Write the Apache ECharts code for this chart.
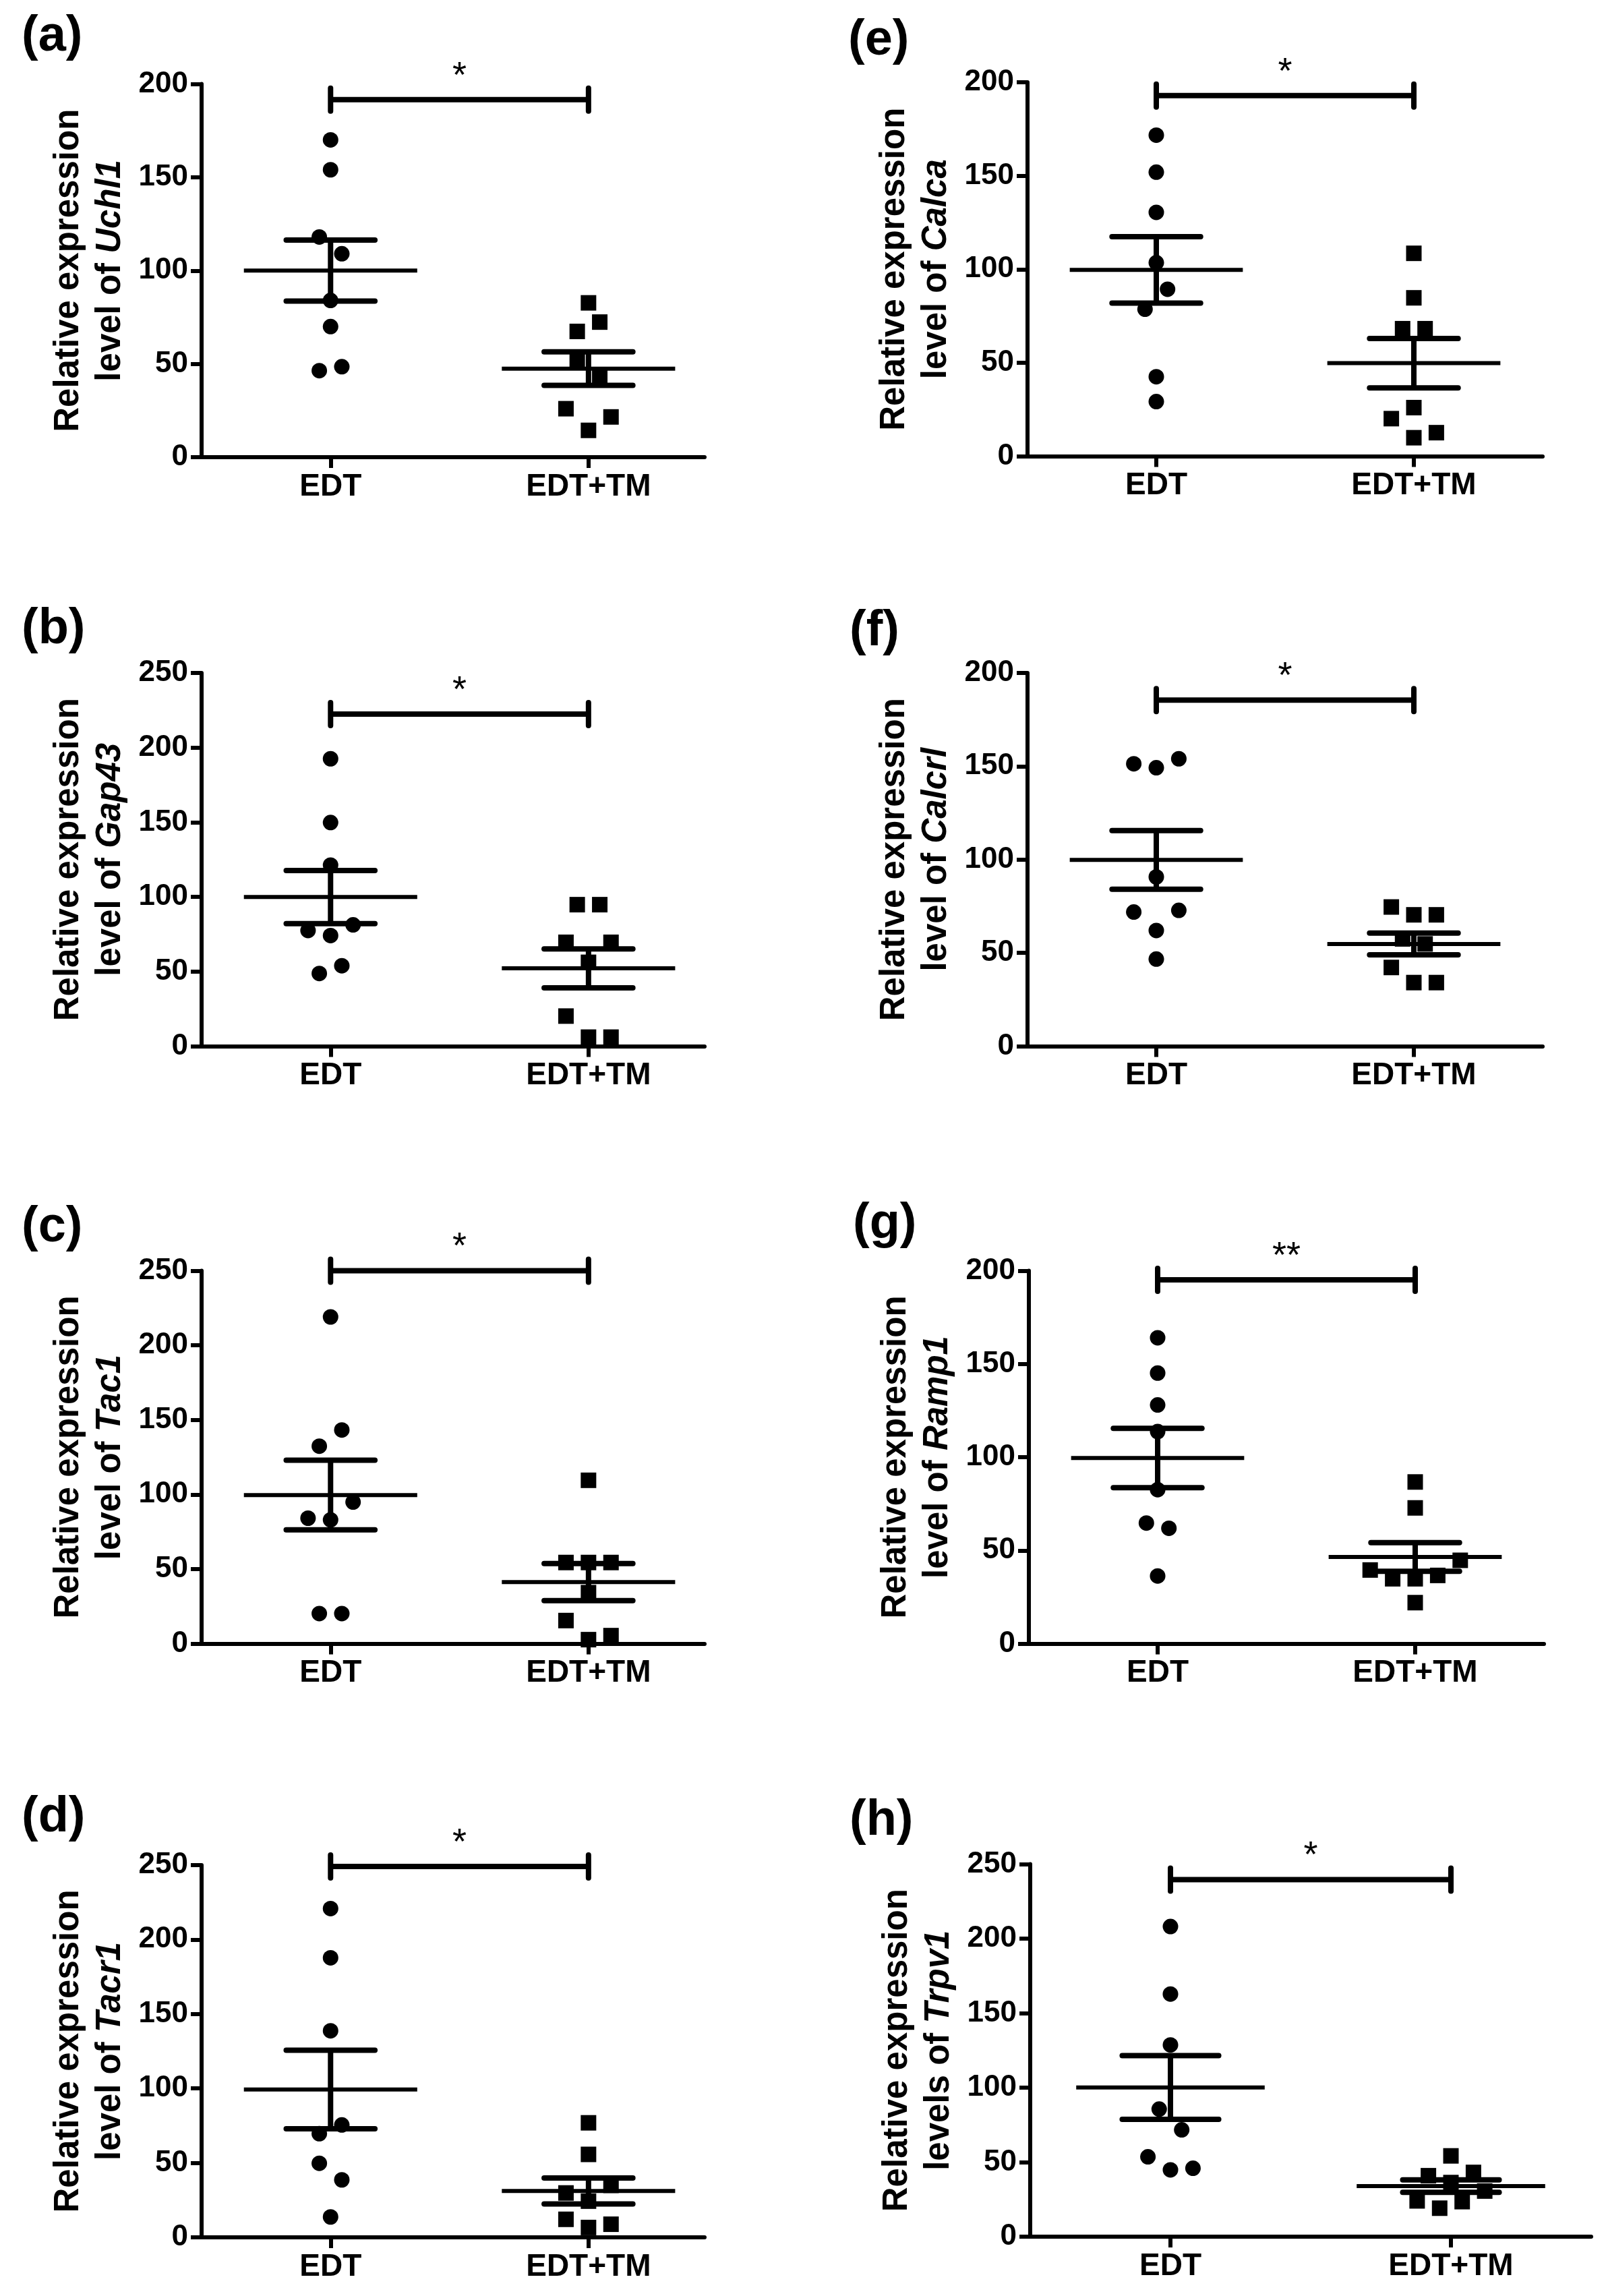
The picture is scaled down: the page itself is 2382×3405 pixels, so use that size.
<!DOCTYPE html>
<html>
<head>
<meta charset="utf-8">
<script src="https://cdn.jsdelivr.net/npm/echarts@6/dist/echarts.min.js"></script>
<style>
html,body{margin:0;padding:0;background:#fff;}
#c{width:2382px;height:3405px;}
</style>
</head>
<body>
<div id="c"></div>
<script>
// ---------------- DATA ----------------
const categories = ['EDT', 'EDT+TM'];
const panelLetters = ['(a)', '(b)', '(c)', '(d)', '(e)', '(f)', '(g)', '(h)'];
const genes = ['Uchl1', 'Gap43', 'Tac1', 'Tacr1', 'Calca', 'Calcrl', 'Ramp1', 'Trpv1'];
const titlePrefixes = ['level of ', 'level of ', 'level of ', 'level of ', 'level of ', 'level of ', 'level of ', 'levels of '];
const yMaxTicks = [200, 250, 250, 250, 200, 200, 200, 250];
const yTickStep = [50, 50, 50, 50, 50, 50, 50, 50];

const a_EDT = [170, 154, 118, 109, 84, 70, 46.4, 48.5];
const a_TM  = [82.7, 72.4, 67.4, 52.6, 42.8, 26, 21.6, 14.4];
const b_EDT = [192.5, 149.8, 121.3, 77.5, 81.3, 74.1, 53.9, 48.7];
const b_TM  = [94.8, 94.8, 69.6, 69.6, 56.2, 20.2, 6.1, 6.1];
const c_EDT = [219, 143.2, 132.4, 94.9, 84.1, 83, 20.2, 20.2];
const c_TM  = [109.5, 54.4, 54.4, 54.4, 34.2, 15.5, 5.4, 2.7];
const d_EDT = [220.8, 187.7, 138.7, 75.5, 69.6, 49.7, 38.6, 13.7];
const d_TM  = [76.9, 55.7, 34.9, 29.8, 24.3, 12.1, 8.8, 6.6];
const e_EDT = [171.7, 151.9, 130.4, 103.5, 89.3, 78.6, 42.5, 29.2];
const e_TM  = [108.5, 84.7, 68.2, 68.2, 26, 20.1, 12.6, 9.9];
const f_EDT = [151.3, 149.2, 154, 90.7, 71.9, 72.8, 62, 46.7];
const f_TM  = [74.6, 70.4, 70.4, 57.5, 54.8, 42.2, 34.1, 34.1];
const g_EDT = [164, 145.1, 128, 113.7, 82.6, 64.7, 61.9, 36.3];
const g_TM  = [86.7, 72.8, 44.7, 39.5, 34.8, 34.8, 36.6, 22];
const h_EDT = [208.1, 162.8, 128.6, 85.6, 71.7, 53.6, 44.8, 45.9];
const h_TM  = [54.2, 40.9, 43.1, 36.3, 30.6, 24, 23.5, 19.1];

// scatter spread (in marker-half-width steps)
const a_EDT_spread = [0, 0, -1, 1, 0, 0, -1, 1];
const a_TM_spread  = [0, 1, -1, -1, 1, -2, 2, 0];
const b_EDT_spread = [0, 0, 0, -2, 2, 0, 1, -1];
const b_TM_spread  = [-1, 1, -2, 2, 0, -2, 0, 2];
const c_EDT_spread = [0, 1, -1, 2, -2, 0, -1, 1];
const c_TM_spread  = [0, -2, 0, 2, 0, -2, 2, 0];
const d_EDT_spread = [0, 0, 0, 1, -1, -1, 1, 0];
const d_TM_spread  = [0, 0, 2, -2, 0, -2, 2, 0];
const e_EDT_spread = [0, 0, 0, 0, 1, -1, 0, 0];
const e_TM_spread  = [0, 0, -1, 1, 0, -2, 2, 0];
const f_EDT_spread = [-2, 0, 2, 0, -2, 2, 0, 0];
const f_TM_spread  = [-2, 0, 2, -1, 1, -2, 0, 2];
const g_EDT_spread = [0, 0, 0, 0, 0, -1, 1, 0];
const g_TM_spread  = [0, 0, 4, -4, -2, 0, 2, 0];
const h_EDT_spread = [0, 0, 0, -1, 1, -2, 0, 2];
const h_TM_spread  = [0, -2, 2, 0, 3, -3, 1, -1];

// significance brackets
const sigLevels = [191.6, 222.4, 250, 249.1, 192.8, 185.4, 195.1, 239.6];
const sigLabels = ['*', '*', '*', '*', '*', '*', '**', '*'];

// ---------------- LAYOUT / STYLE ----------------
const groupsEDT = [a_EDT, b_EDT, c_EDT, d_EDT, e_EDT, f_EDT, g_EDT, h_EDT];
const groupsTM = [a_TM, b_TM, c_TM, d_TM, e_TM, f_TM, g_TM, h_TM];
const spreadEDT = [a_EDT_spread, b_EDT_spread, c_EDT_spread, d_EDT_spread, e_EDT_spread, f_EDT_spread, g_EDT_spread, h_EDT_spread];
const spreadTM = [a_TM_spread, b_TM_spread, c_TM_spread, d_TM_spread, e_TM_spread, f_TM_spread, g_TM_spread, h_TM_spread];

const layout = [
  {left: 299, top: 124.4, width: 746, height: 553.7, xMax: 2.45, lx: 32, ly: 29},
  {left: 299, top: 997.9, width: 746, height: 553.7, xMax: 2.45, lx: 32, ly: 908},
  {left: 299, top: 1884.4, width: 746, height: 553.2, xMax: 2.45, lx: 32, ly: 1795},
  {left: 299, top: 2765.9, width: 746, height: 552.1, xMax: 2.45, lx: 32, ly: 2670},
  {left: 1524, top: 121.9, width: 764, height: 554.7, xMax: 2.5, lx: 1258, ly: 35},
  {left: 1524, top: 997.9, width: 764, height: 553.7, xMax: 2.5, lx: 1260, ly: 911},
  {left: 1526, top: 1884.4, width: 764, height: 553.2, xMax: 2.5, lx: 1265, ly: 1790},
  {left: 1528, top: 2764.4, width: 832, height: 552.6, xMax: 2.5, lx: 1260, ly: 2675}
];

const FONT = '"Liberation Sans", Arial, Helvetica, sans-serif';
const BLACK = '#000';
const STEP_PX = 16.7;   // horizontal spread step in px
const MEAN_HALF = 0.336; // mean line half width (category units)
const CAP_HALF = 0.172;  // SEM cap half width

function meanSem(arr) {
  const n = arr.length;
  const m = arr.reduce((s, v) => s + v, 0) / n;
  const sd = Math.sqrt(arr.reduce((s, v) => s + (v - m) * (v - m), 0) / (n - 1));
  return [m, sd / Math.sqrt(n)];
}

const grids = [], xAxes = [], yAxes = [], series = [], graphics = [];

layout.forEach((L, i) => {
  grids.push({left: L.left, top: L.top, width: L.width, height: L.height, containLabel: false});
  const unitPx = L.width / (L.xMax - 0.5);
  const stepUnits = STEP_PX / unitPx;

  xAxes.push({
    type: 'value', gridIndex: i, min: 0.5, max: L.xMax,
    axisLine: {show: true, onZero: false, lineStyle: {color: BLACK, width: 6}},
    axisTick: {show: true, customValues: [1, 2], length: 16, lineStyle: {color: BLACK, width: 6}},
    axisLabel: {show: true, customValues: [1, 2], formatter: v => categories[Math.round(v) - 1] || '',
      fontFamily: FONT, fontSize: 46, fontWeight: 'bold', color: BLACK, margin: 21},
    splitLine: {show: false}
  });
  yAxes.push({
    type: 'value', gridIndex: i, min: 0, max: yMaxTicks[i], interval: yTickStep[i],
    axisLine: {show: true, lineStyle: {color: BLACK, width: 6}},
    axisTick: {show: true, length: 16, lineStyle: {color: BLACK, width: 6}},
    axisLabel: {fontFamily: FONT, fontSize: 44, fontWeight: 'bold', color: BLACK, margin: 20},
    splitLine: {show: false},
    name: '{t|Relative expression}\n{t|' + titlePrefixes[i] + '}{i|' + genes[i] + '}',
    nameLocation: 'middle', nameGap: 104, nameRotate: 90,
    nameTextStyle: {fontFamily: FONT, fontSize: 51, fontWeight: 'bold', color: BLACK, lineHeight: 62,
      rich: {
        t: {fontFamily: FONT, fontSize: 51, fontWeight: 'bold', color: BLACK, lineHeight: 62},
        i: {fontFamily: FONT, fontSize: 51, fontWeight: 'bold', fontStyle: 'italic', color: BLACK, lineHeight: 62}
      }}
  });

  const ptsEDT = groupsEDT[i].map((v, k) => [1 + spreadEDT[i][k] * stepUnits, v]);
  const ptsTM = groupsTM[i].map((v, k) => [2 + spreadTM[i][k] * stepUnits, v]);
  series.push({type: 'scatter', xAxisIndex: i, yAxisIndex: i, data: ptsEDT, symbol: 'circle', symbolSize: 23,
    itemStyle: {color: BLACK, opacity: 1}, silent: true, z: 3});
  series.push({type: 'scatter', xAxisIndex: i, yAxisIndex: i, data: ptsTM, symbol: 'rect', symbolSize: 23,
    itemStyle: {color: BLACK, opacity: 1}, silent: true, z: 3});

  const ms1 = meanSem(groupsEDT[i]), ms2 = meanSem(groupsTM[i]);
  series.push({
    type: 'custom', xAxisIndex: i, yAxisIndex: i, silent: true, z: 4,
    data: [[1, ms1[0], ms1[1]], [2, ms2[0], ms2[1]]],
    renderItem: function (params, api) {
      const x = api.value(0), m = api.value(1), s = api.value(2);
      const a1 = api.coord([x - MEAN_HALF, m]), a2 = api.coord([x + MEAN_HALF, m]);
      const t = api.coord([x, m + s]), b = api.coord([x, m - s]);
      const c1 = api.coord([x - CAP_HALF, m + s]), c2 = api.coord([x + CAP_HALF, m + s]);
      const d1 = api.coord([x - CAP_HALF, m - s]), d2 = api.coord([x + CAP_HALF, m - s]);
      const st = {stroke: BLACK, lineWidth: 8, lineCap: 'round'};
      return {type: 'group', children: [
        {type: 'line', shape: {x1: a1[0], y1: a1[1], x2: a2[0], y2: a2[1]}, style: {stroke: BLACK, lineWidth: 6}},
        {type: 'line', shape: {x1: t[0], y1: t[1], x2: b[0], y2: b[1]}, style: {stroke: BLACK, lineWidth: 8}},
        {type: 'line', shape: {x1: c1[0], y1: c1[1], x2: c2[0], y2: c2[1]}, style: st},
        {type: 'line', shape: {x1: d1[0], y1: d1[1], x2: d2[0], y2: d2[1]}, style: st}
      ]};
    }
  });

  const sigLabel = sigLabels[i];
  series.push({
    type: 'custom', xAxisIndex: i, yAxisIndex: i, silent: true, z: 5, clip: false,
    data: [[1, 2, sigLevels[i]]],
    renderItem: function (params, api) {
      const p1 = api.coord([api.value(0), api.value(2)]);
      const p2 = api.coord([api.value(1), api.value(2)]);
      const st = {stroke: BLACK, lineWidth: 8, lineCap: 'round'};
      return {type: 'group', children: [
        {type: 'line', shape: {x1: p1[0], y1: p1[1], x2: p2[0], y2: p2[1]}, style: {stroke: BLACK, lineWidth: 8}},
        {type: 'line', shape: {x1: p1[0], y1: p1[1] - 17, x2: p1[0], y2: p1[1] + 17}, style: st},
        {type: 'line', shape: {x1: p2[0], y1: p2[1] - 17, x2: p2[0], y2: p2[1] + 17}, style: st},
        {type: 'text', x: (p1[0] + p2[0]) / 2, y: p1[1] - 34,
          style: {text: sigLabel, fontFamily: FONT, fontSize: 54, fill: BLACK, align: 'center', verticalAlign: 'middle'}}
      ]};
    }
  });

  graphics.push({type: 'text', left: L.lx, top: L.ly - 11,
    style: {text: panelLetters[i], fontFamily: FONT, fontSize: 74, fontWeight: 'bold', fill: BLACK}});
});

const chart = echarts.init(document.getElementById('c'), null, {renderer: 'canvas'});
chart.setOption({
  backgroundColor: '#fff',
  animation: false,
  grid: grids,
  xAxis: xAxes,
  yAxis: yAxes,
  series: series,
  graphic: graphics
});
</script>
</body>
</html>
